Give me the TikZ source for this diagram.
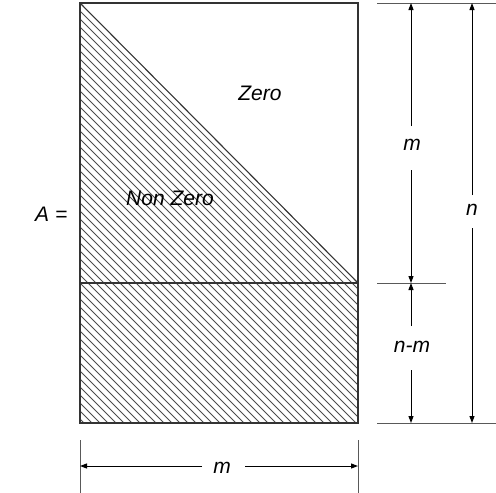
\documentclass[tikz,border=0pt]{standalone}
\usepackage{fontspec}
\setmainfont{Liberation Sans}
\usetikzlibrary{arrows.meta}
\tikzset{
  box/.style={draw=black!80, line width=1.1pt},
  hatchline/.style={draw=black!70, line width=0.8pt},
  extline/.style={draw=black!65, line width=1pt},
  dimline/.style={draw=black, line width=1pt, -{Triangle[length=7pt,width=5pt]}},
  lbl/.style={font=\fontsize{21}{24}\selectfont\itshape, inner sep=0pt}
}
\begin{document}
\begin{tikzpicture}[x=1pt,y=-1pt]
\useasboundingbox (0,0) rectangle (496,493);
% corners
\coordinate (tl) at (80,3);
\coordinate (tr) at (358,3);
\coordinate (ml) at (80,283);
\coordinate (mr) at (358,283);
\coordinate (bl) at (80,423);
\coordinate (br) at (358,423);
% hatching
\begin{scope}
  \clip (tl) -- (mr) -- (br) -- (bl) -- cycle;
  \foreach \k in {1,...,54}{
    \pgfmathsetmacro{\c}{77-8*\k}
    \draw[hatchline] (80,80-\c) -- (358,358-\c);
  }
\end{scope}
\draw[box] (tl) rectangle (br);
\draw[box] (ml) -- (mr);
\draw[box] (tl) -- (mr);
% labels
\node[lbl] (zero) at (260,93) {Zero};
\node[lbl] (nonzero) at (170,198) {Non Zero};
\node[lbl, anchor=west] (A) at (35,214) {A =};
% extension lines
\coordinate (e1a) at (377,3);   \coordinate (e1b) at (496,3);
\coordinate (e2a) at (377,283); \coordinate (e2b) at (446,283);
\coordinate (e3a) at (377,423); \coordinate (e3b) at (496,423);
\coordinate (e4a) at (80,440);  \coordinate (e4b) at (80,493);
\coordinate (e5a) at (358,440); \coordinate (e5b) at (358,493);
\draw[extline] (e1a) -- (e1b);
\draw[extline] (e2a) -- (e2b);
\draw[extline] (e3a) -- (e3b);
\draw[extline] (e4a) -- (e4b);
\draw[extline] (e5a) -- (e5b);
% dimension m (right)
\node[lbl] (lm) at (412,145) {m};
\coordinate (m1) at (411,126); \coordinate (m1t) at (411,3);
\coordinate (m2) at (411,170); \coordinate (m2t) at (411,283);
\draw[dimline] (m1) -- (m1t);
\draw[dimline] (m2) -- (m2t);
% dimension n-m
\node[lbl] (lnm) at (412,347) {n-m};
\coordinate (nm1) at (411,326); \coordinate (nm1t) at (411,283);
\coordinate (nm2) at (411,370); \coordinate (nm2t) at (411,423);
\draw[dimline] (nm1) -- (nm1t);
\draw[dimline] (nm2) -- (nm2t);
% dimension n
\node[lbl] (ln) at (472,210) {n};
\coordinate (n1) at (472,195); \coordinate (n1t) at (472,3);
\coordinate (n2) at (472,228); \coordinate (n2t) at (472,423);
\draw[dimline] (n1) -- (n1t);
\draw[dimline] (n2) -- (n2t);
% dimension m (bottom)
\node[lbl] (lb) at (222,468) {m};
\coordinate (b1) at (202,466); \coordinate (b1t) at (80,466);
\coordinate (b2) at (245,466); \coordinate (b2t) at (358,466);
\draw[dimline] (b1) -- (b1t);
\draw[dimline] (b2) -- (b2t);
\end{tikzpicture}
\end{document}
